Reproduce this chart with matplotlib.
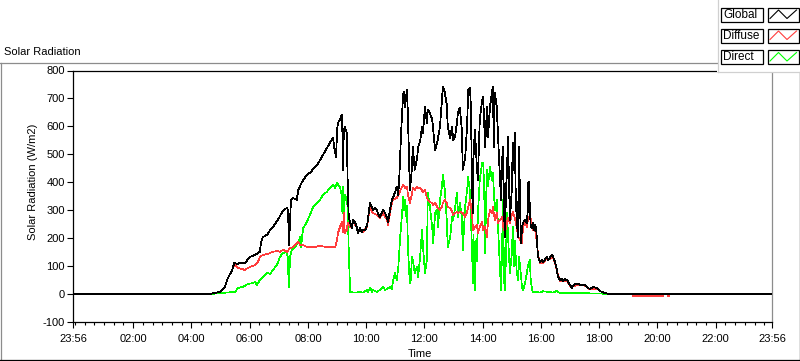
import numpy as np
import matplotlib
matplotlib.use("Agg")
import matplotlib.pyplot as plt
from matplotlib.patches import Rectangle
from matplotlib.lines import Line2D

plt.rcParams['font.family'] = ['Liberation Sans', 'DejaVu Sans']
plt.rcParams['font.size'] = 8

NaN = float("nan")

# ---- data (time in minutes since midnight, values in W/m2) ----
global_t = [-4, 278, 299, 309, 315, 324, 328, 334, 340, 350, 361, 371, 381, 383, 387, 396, 402, 408, 418, 427, 433, 437, 439, 441, 445, 449, 457, 460, 468, 478, 484, 499, 511, 525, 532, 534, 538, 540, 542, 546, 550, 551, 552, 554, 556, 560, 562, 564, 567, 571, 573, 577, 581, 583, 587, 591, 593, 598, 602, 604, 608, 612, 614, 618, 622, 624, 628, 633, 635, 639, 643, 645, 649, 653, 655, 659, 663, 666, 668, 670, 672, 674, 676, 678, 680, 684, 686, 690, 694, 696, 700, 705, 707, 711, 715, 717, 721, 725, 727, 731, 736, 738, 742, 746, 748, 752, 756, 758, 762, 766, 768, 773, 777, 779, 783, 787, 789, 793, 797, 799, 804, 808, 810, 814, 816, 818, 820, 821, 824, 828, 830, 834, 839, 841, 845, 849, 851, 855, 859, 861, 863, 865, 869, 871, 876, 878, 880, 882, 884, 886, 888, 890, 892, 894, 896, 900, 902, 904, 906, 908, 910, 913, 914, 915, 917, 919, 921, 923, 927, 931, 933, 934, 935, 937, 939, 941, 943, 945, 947, 950, 952, 954, 958, 962, 964, 968, 972, 974, 978, 983, 985, 989, 993, 995, 999, 1003, 1005, 1009, 1013, 1015, 1020, 1024, 1026, 1030, 1036, 1044, 1051, 1057, 1061, 1067, 1075, 1077, 1082, 1086, 1092, 1102, 1436]
global_v = [0, 0, 8, 26, 57, 86, 111, 108, 111, 111, 133, 140, 151, 183, 204, 212, 229, 240, 265, 294, 305, 308, 301, 176, 337, 344, 337, 373, 402, 427, 434, 462, 498, 541, 559, 523, 491, 588, 613, 624, 642, 577, 445, 588, 599, 577, 384, 276, 255, 237, 265, 258, 237, 219, 237, 222, 229, 229, 247, 276, 326, 308, 301, 308, 301, 290, 276, 294, 301, 290, 272, 258, 301, 337, 344, 362, 384, 355, 409, 500, 581, 650, 713, 724, 670, 731, 635, 373, 445, 527, 445, 488, 527, 545, 599, 577, 670, 613, 660, 649, 624, 588, 516, 541, 559, 599, 695, 742, 721, 678, 599, 559, 599, 552, 563, 613, 649, 667, 588, 445, 491, 606, 731, 738, 649, 373, 290, 491, 588, 455, 409, 624, 695, 706, 527, 670, 563, 670, 721, 742, 527, 721, 670, 588, 398, 337, 480, 527, 290, 204, 373, 434, 563, 409, 265, 373, 541, 445, 577, 362, 265, 204, 445, 527, 312, 183, 240, 255, 265, 255, 301, 398, 402, 312, 240, 237, 255, 229, 247, 240, 183, 133, 115, 122, 115, 122, 133, 122, 129, 140, 133, 115, 86, 61, 50, 54, 47, 54, 50, 47, 32, 22, 29, 36, 36, 32, 32, 22, 18, 25, 22, 18, 11, 7, 4, 0, 0]

diffuse_t = [278, 299, 309, 315, 324, 328, 330, 336, 344, 350, 356, 365, 371, 377, 381, 387, 396, 402, 408, 416, 422, 429, 437, 443, 449, 457, 460, 464, 470, 478, 484, 491, 505, 519, 532, 536, 540, 542, 546, 550, 552, 554, 556, 560, 562, 567, 571, 573, 581, 583, 587, 593, 602, 604, 608, 614, 622, 628, 635, 643, 645, 649, 653, 655, 663, 670, 674, 676, 680, 684, 686, 690, 694, 696, 700, 705, 707, 711, 717, 721, 725, 727, 731, 736, 738, 742, 746, 748, 752, 756, 758, 762, 766, 768, 773, 777, 779, 783, 787, 789, 793, 799, 804, 808, 810, 814, 818, 820, 824, 828, 830, 834, 839, 841, 845, 849, 851, 855, 859, 861, 865, 869, 871, 876, 880, 882, 886, 890, 892, 896, 900, 902, 906, 910, 913, 917, 921, 923, 927, 931, 933, 937, 941, 943, 947, 952, 954, 958, 964, 972, 978, 985, 989, 993, 999, 1005, 1013, 1020, 1026, 1036, 1051, 1061, 1075, 1082, 1092, 1102, 1104, 1150, 1212, 1213, 1221, 1224]
diffuse_v = [0, 8, 26, 57, 86, 105, 104, 93, 90, 86, 93, 100, 104, 115, 133, 140, 143, 147, 151, 154, 151, 158, 151, 165, 168, 183, 186, 176, 176, 168, 168, 168, 172, 168, 168, 168, 194, 219, 240, 258, 222, 290, 219, 229, 255, 240, 247, 258, 237, 222, 229, 222, 240, 272, 308, 290, 283, 272, 290, 265, 247, 290, 326, 337, 344, 369, 384, 391, 380, 384, 355, 326, 355, 380, 373, 384, 380, 380, 366, 373, 344, 337, 330, 326, 319, 326, 312, 308, 301, 312, 326, 337, 326, 312, 308, 294, 283, 290, 294, 290, 294, 290, 276, 294, 312, 337, 290, 229, 240, 247, 219, 240, 258, 229, 240, 204, 265, 301, 290, 312, 265, 290, 255, 265, 276, 240, 219, 255, 272, 255, 283, 294, 272, 240, 204, 194, 183, 240, 255, 240, 265, 283, 255, 229, 240, 183, 140, 112, 110, 128, 125, 130, 112, 83, 47, 45, 48, 30, 27, 34, 30, 16, 20, 10, 3, 0, NaN, -6, -6, NaN, -6, -6]

direct_t = [278, 330, 336, 344, 350, 356, 365, 371, 375, 377, 381, 387, 396, 402, 408, 416, 418, 422, 429, 435, 437, 439, 440, 441, 443, 447, 453, 460, 464, 466, 468, 470, 478, 484, 488, 491, 499, 505, 511, 519, 525, 530, 532, 536, 540, 542, 546, 550, 551, 552, 554, 556, 558, 560, 562, 564, 567, 573, 581, 587, 593, 602, 604, 608, 612, 614, 622, 628, 635, 639, 643, 649, 653, 655, 659, 663, 666, 670, 674, 676, 678, 680, 682, 684, 686, 688, 690, 692, 694, 696, 700, 705, 707, 711, 715, 717, 721, 725, 727, 731, 736, 738, 742, 746, 748, 752, 756, 758, 762, 766, 768, 773, 777, 779, 783, 787, 789, 793, 797, 799, 804, 808, 810, 814, 818, 820, 821, 824, 826, 828, 830, 834, 839, 841, 843, 845, 847, 849, 851, 855, 859, 861, 865, 869, 871, 876, 878, 880, 882, 884, 886, 888, 890, 892, 896, 900, 902, 904, 906, 910, 913, 915, 917, 921, 923, 927, 931, 933, 937, 939, 941, 943, 952, 958, 964, 978, 985, 993, 999, 1020, 1040, 1082, 1096]
direct_v = [0, 8, 22, 25, 29, 36, 39, 43, 32, 39, 50, 61, 75, 72, 86, 104, 111, 133, 147, 151, 140, 133, 32, 25, 133, 158, 168, 183, 204, 168, 204, 235, 258, 283, 301, 312, 326, 337, 355, 366, 380, 387, 391, 380, 398, 391, 384, 348, 290, 384, 265, 355, 337, 348, 301, 158, 7, 6, 6, 8, 5, 14, 8, 22, 8, 14, 8, 14, 25, 15, 18, 25, 18, 43, 75, 50, 93, 204, 290, 348, 301, 337, 280, 316, 168, 97, 40, 50, 133, 122, 75, 97, 61, 133, 229, 172, 75, 122, 362, 316, 240, 183, 290, 301, 240, 337, 384, 427, 373, 265, 168, 204, 276, 265, 308, 362, 276, 326, 276, 158, 316, 373, 420, 362, 158, 40, 212, 14, 190, 118, 283, 409, 470, 470, 387, 147, 340, 445, 387, 455, 409, 434, 301, 337, 265, 75, 14, 168, 337, 50, 14, 143, 290, 215, 75, 143, 240, 100, 190, 83, 50, 133, 100, 25, 14, 36, 75, 100, 122, 50, 25, 7, 7, 5, 10, 7, 5, 12, 3, 3, 3, 2, 0]

series_names = ["Global", "Diffuse", "Direct"]
series_colors = ["#000000", "#ff3c3c", "#00ff00"]
x_major_labels = ["23:56", "02:00", "04:00", "06:00", "08:00", "10:00", "12:00",
                  "14:00", "16:00", "18:00", "20:00", "22:00", "23:56"]
y_ticks = [-100, 0, 100, 200, 300, 400, 500, 600, 700, 800]

# ---- figure ----
W, H = 800, 361
fig = plt.figure(figsize=(W / 100, H / 100), dpi=100)
fig.patch.set_facecolor("white")

ax = fig.add_axes([73 / W, 1 - 322 / H, (772 - 73) / W, (322 - 70.5) / H])
ax.set_facecolor("white")

def hours(tlist):
    return np.array(tlist, dtype=float) / 60.0

ax.plot(hours(direct_t), direct_v, color=series_colors[2], lw=0.5,
        antialiased=False, zorder=2)
ax.plot(hours(diffuse_t), diffuse_v, color=series_colors[1], lw=0.5,
        antialiased=False, zorder=3)
ax.plot(hours(global_t), global_v, color=series_colors[0], lw=0.55,
        antialiased=False, zorder=4)

x0 = -4 / 60
x1 = 24 - 4 / 60
ax.set_xlim(x0, x1)
ax.set_ylim(-100, 800)

major_pos = [x0] + list(range(2, 24, 2)) + [x1]
ax.set_xticks(major_pos)
ax.set_xticklabels(x_major_labels)
minor_pos = [m / 3 for m in range(0, 72) if (m / 3) % 2 != 0 or m == 0]
ax.set_xticks(minor_pos, minor=True)
ax.set_yticks(y_ticks)
ax.set_yticklabels([str(v) for v in y_ticks])

ax.tick_params(axis="x", which="major", direction="out", length=4.3, width=0.8,
               pad=4.5, labelsize=8, colors="black")
ax.tick_params(axis="x", which="minor", direction="out", length=2.3, width=0.8)
ax.tick_params(axis="y", which="major", direction="out", length=4, width=0.8,
               pad=2, labelsize=8, colors="black")

for side in ["left", "top", "bottom"]:
    ax.spines[side].set_color("black")
    ax.spines[side].set_linewidth(0.9)
ax.spines["right"].set_color("#8c8c8c")
ax.spines["right"].set_linewidth(0.9)

# labels
fig.text(4 / W, 1 - 55 / H, "Solar Radiation", ha="left", va="baseline", fontsize=8)
fig.text(33 / W, 1 - 182 / H, "Solar Radiation (W/m2)", rotation=90,
         ha="center", va="center", fontsize=8)
fig.text(408 / W, 1 - 357 / H, "Time", ha="left", va="baseline", fontsize=8)

# ---- overlay: panel frame and legend ----
ov = fig.add_axes([0, 0, 1, 1], zorder=10)
ov.set_xlim(0, W)
ov.set_ylim(H, 0)
ov.axis("off")
ov.patch.set_alpha(0)

ov.add_line(Line2D([0, 717], [62.5, 62.5], color="#8c8c8c", lw=0.9))
ov.add_line(Line2D([0.5, 0.5], [62.5, 360], color="#8c8c8c", lw=0.9))
ov.add_line(Line2D([0, 800], [360, 360], color="black", lw=0.9))
ov.add_line(Line2D([799.5, 799.5], [72, 361], color="black", lw=0.9))

# legend background
ov.add_patch(Rectangle((717, 0), 83, 72, facecolor="white", edgecolor="none"))
ov.add_line(Line2D([717.5, 717.5], [0, 72], color="#d0d0d0", lw=0.9))
ov.add_line(Line2D([717.5, 800], [72, 72], color="#d0d0d0", lw=0.9))

rows = [7.5, 28.5, 50]
for name, col, y0 in zip(series_names, series_colors, rows):
    ov.add_patch(Rectangle((721, y0), 42, 14, facecolor="white",
                           edgecolor="black", lw=0.9))
    ov.text(723, y0 + 7.3, name, ha="left", va="center", fontsize=8.5)
    ov.add_patch(Rectangle((768, y0), 31, 14, facecolor="white",
                           edgecolor="black", lw=0.9))
    ov.add_line(Line2D([770, 778.5, 787, 796.5],
                       [y0 + 11, y0 + 2.5, y0 + 11, y0 + 2.5],
                       color=col, lw=0.8))

fig.savefig("out.png", dpi=100, facecolor="white")
